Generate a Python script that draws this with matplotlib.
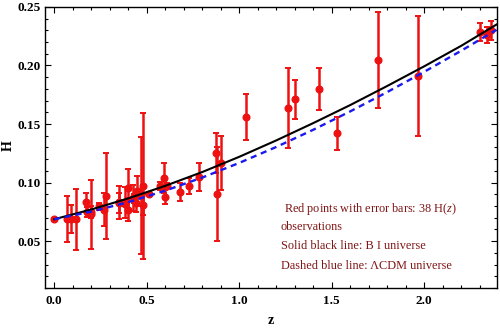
import matplotlib
matplotlib.use("Agg")
import matplotlib.pyplot as plt
from matplotlib.ticker import MultipleLocator

plt.rcParams['mathtext.fontset'] = 'custom'
plt.rcParams['mathtext.rm'] = 'Liberation Serif'
plt.rcParams['mathtext.it'] = 'Liberation Serif:italic'

# Observational H(z) data (H in units of 1000 km/s/Mpc)
z_obs = [0.0, 0.07, 0.09, 0.12, 0.17, 0.179, 0.199, 0.2, 0.24, 0.27, 0.28,
         0.35, 0.352, 0.38, 0.3802, 0.4, 0.4004, 0.4247, 0.43, 0.44, 0.44497,
         0.47, 0.4783, 0.48, 0.51, 0.57, 0.593, 0.6, 0.61, 0.68, 0.73, 0.781,
         0.875, 0.88, 0.9, 1.037, 1.265, 1.3, 1.43, 1.53, 1.75, 1.965,
         2.3, 2.34, 2.36]
H_obs = [0.0687, 0.069, 0.069, 0.0686, 0.083, 0.075, 0.075, 0.0729, 0.0797,
         0.077, 0.0888, 0.0827, 0.083, 0.0815, 0.083, 0.095, 0.077, 0.0871,
         0.0865, 0.0826, 0.0928, 0.089, 0.0809, 0.097, 0.0904, 0.0968, 0.104,
         0.0879, 0.0973, 0.092, 0.0973, 0.105, 0.125, 0.090, 0.117, 0.156,
         0.1636, 0.171, 0.180, 0.142, 0.205, 0.191, 0.2285, 0.226, 0.230]
H_err = [0.001, 0.0196, 0.012, 0.0262, 0.008, 0.004, 0.005, 0.0296, 0.0027,
         0.014, 0.0366, 0.0084, 0.014, 0.0019, 0.0135, 0.017, 0.0102, 0.0112,
         0.0037, 0.0078, 0.0129, 0.050, 0.009, 0.062, 0.0019, 0.0034, 0.013,
         0.0061, 0.0021, 0.008, 0.007, 0.012, 0.017, 0.040, 0.023, 0.020,
         0.034, 0.017, 0.018, 0.014, 0.041, 0.051, 0.008, 0.007, 0.008]

# Model curves
z_model = [0.0, 0.2, 0.4, 0.6, 0.8, 1.0, 1.2, 1.4, 1.6, 1.8, 2.0, 2.2, 2.39]
H_bi = [0.0687, 0.0770, 0.0865, 0.0972, 0.1090, 0.1220, 0.1360, 0.1508,
        0.1662, 0.1825, 0.1993, 0.2168, 0.2349]
H_lcdm = [0.0687, 0.0752, 0.0833, 0.0931, 0.1043, 0.1168, 0.1304, 0.1451,
          0.1608, 0.1773, 0.1946, 0.2126, 0.2304]

legend_lines = [" Red points with error bars: 38 H($z$)",
                "observations",
                "Solid black line: B I universe",
                "Dashed blue line: \u039bCDM universe"]

serif = ['Liberation Serif', 'DejaVu Serif']

fig = plt.figure(figsize=(5.0, 3.28), dpi=100)
ax = fig.add_axes([0.09, 0.122, 0.904, 0.857])

ax.errorbar(z_obs, H_obs, yerr=H_err, fmt='o', color='#ee1111',
            ecolor='#ee1111', markersize=4.8, elinewidth=1.8, capsize=1.9,
            capthick=1.4, zorder=2)
ax.plot(z_model, H_bi, color='black', lw=1.5, zorder=3)
ax.plot(z_model, H_lcdm, color='#1a1aee', lw=1.7, ls=(0, (2.6, 2.0)), zorder=4)

ax.set_xlim(-0.05, 2.393)
ax.set_ylim(0.01, 0.25)
ax.xaxis.set_major_locator(MultipleLocator(0.5))
ax.xaxis.set_minor_locator(MultipleLocator(0.1))
ax.yaxis.set_major_locator(MultipleLocator(0.05))
ax.yaxis.set_minor_locator(MultipleLocator(0.01))
ax.set_xticks([0.0, 0.5, 1.0, 1.5, 2.0])
ax.set_xticklabels(['0.0', '0.5', '1.0', '1.5', '2.0'])
ax.set_yticks([0.05, 0.10, 0.15, 0.20, 0.25])
ax.set_yticklabels(['0.05', '0.10', '0.15', '0.20', '0.25'])

ax.tick_params(which='both', direction='in', top=True, right=True,
               width=0.8, color='black')
ax.tick_params(which='major', length=4)
ax.tick_params(which='minor', length=2.2)
ax.tick_params(axis='x', pad=5)
ax.tick_params(axis='y', pad=3)
for lab in ax.get_xticklabels() + ax.get_yticklabels():
    lab.set_family(serif)
    lab.set_fontweight('bold')
    lab.set_fontsize(9.5)
for sp in ax.spines.values():
    sp.set_linewidth(1.0)

ax.set_xlabel('z', family=serif, fontweight='bold', fontsize=10)
ax.set_ylabel('H', family=serif, fontweight='bold', fontsize=10)
ax.xaxis.set_label_coords(0.5, -0.114)
ax.xaxis.label.set_va('center')
ax.yaxis.set_label_coords(-0.082, 0.505)
ax.yaxis.label.set_va('center')

ys = [0.281, 0.218, 0.151, 0.0795]
for txt, y in zip(legend_lines, ys):
    ax.text(0.522, y, txt, transform=ax.transAxes, family=serif,
            fontsize=8.8, color='#801515', va='center', ha='left')

fig.savefig('out.png', dpi=100)
